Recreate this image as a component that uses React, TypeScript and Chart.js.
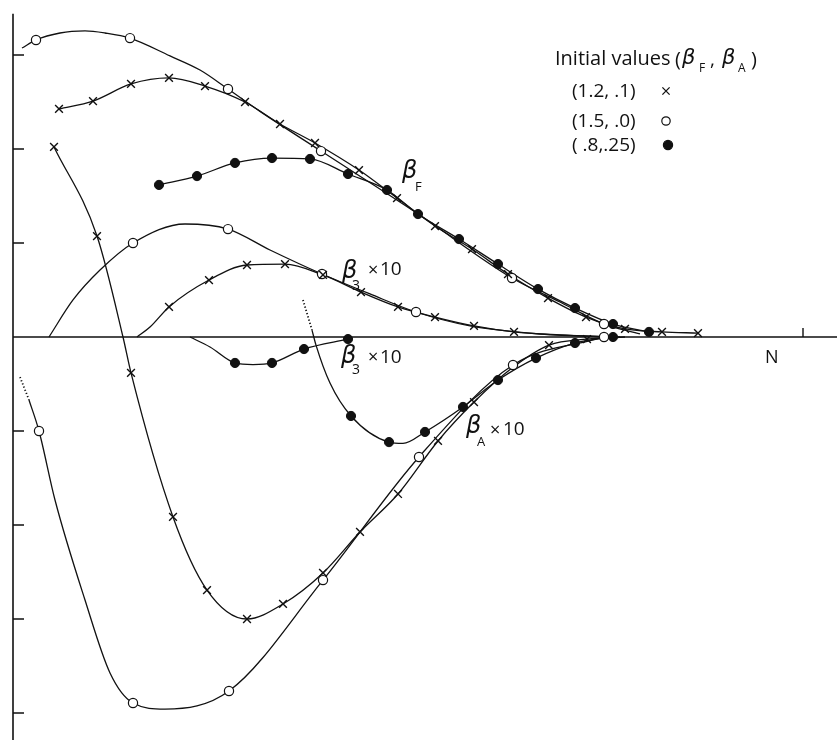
import React, { useEffect, useRef } from "react";
import { Chart, registerables } from "chart.js";

Chart.register(...registerables);

type P = [number, number];

// Horizontal axis is N; vertical axis is β, with a tick every 0.5.
const X_MIN = -1.3;
const X_MAX = 82.4;
const Y_MIN = -2.1436;
const Y_MAX = 1.7926;
const AXIS_TOP = 1.72;
const Y_TICKS = [-2, -1.5, -1, -0.5, 0.5, 1, 1.5];
const X_TICKS = [79];

// β_F, initial values (1.2, .1)  — crosses
const betaFCrossMarks: P[] = [
  [4.6, 1.213], [8.0, 1.255], [11.8, 1.346], [15.6, 1.378], [19.2, 1.335],
  [23.2, 1.25], [26.7, 1.133], [30.2, 1.032], [34.6, 0.888], [38.4, 0.739],
  [42.2, 0.59], [45.9, 0.468], [49.5, 0.335], [53.5, 0.207], [57.3, 0.106],
  [61.2, 0.043], [64.9, 0.027], [68.5, 0.021],
];

// β_F, initial values (1.5, .0)  — open circles
const betaFOpenMarks: P[] = [
  [2.3, 1.58], [11.7, 1.59], [21.5, 1.319], [30.8, 0.989], [49.9, 0.314], [59.1, 0.069],
];
const betaFOpenPath: P[] = [
  [0.9, 1.537], [4.7, 1.617], [7.2, 1.628], [9.2, 1.617], [15.7, 1.495],
  [18.7, 1.42], [24.7, 1.2], [40.3, 0.662], [54.7, 0.186], [62.7, 0.016],
];

// β_F, initial values (.8, .25)  — filled circles
const betaFFilledMarks: P[] = [
  [14.6, 0.809], [18.4, 0.856], [22.2, 0.926], [25.9, 0.952], [29.7, 0.947],
  [33.5, 0.867], [37.4, 0.782], [40.5, 0.654], [44.6, 0.521], [48.5, 0.388],
  [52.5, 0.255], [56.2, 0.154], [60.0, 0.069], [63.6, 0.027],
];

// β_3 × 10
const beta3OpenMarks: P[] = [[12.0, 0.5], [21.5, 0.574], [30.9, 0.335], [40.3, 0.133]];
const beta3OpenPath: P[] = [
  [3.6, 0], [6.0, 0.197], [8.7, 0.356], [17.2, 0.601], [25.7, 0.463],
  [35.7, 0.229], [45.7, 0.059], [52.7, 0.016], [60.7, 0],
];
const beta3CrossMarks: P[] = [
  [15.6, 0.16], [19.6, 0.303], [23.4, 0.383], [27.2, 0.388], [31.0, 0.33],
  [34.8, 0.239], [38.5, 0.16], [42.2, 0.106], [46.1, 0.059], [50.1, 0.027],
];
const beta3CrossPath: P[] = [[12.4, 0], [13.7, 0.053], [54.7, 0.011], [59.7, 0]];
const beta3FilledMarks: P[] = [[22.2, -0.138], [25.9, -0.138], [29.1, -0.064], [33.5, -0.011]];
const beta3FilledPath: P[] = [[17.7, 0], [19.7, -0.053], [24.0, -0.147]];

// β_A × 10
const betaACrossMarks: P[] = [
  [4.1, 1.011], [8.4, 0.537], [11.8, -0.191], [16.0, -0.957], [19.4, -1.346],
  [23.4, -1.5], [27.0, -1.42], [31.0, -1.255], [34.7, -1.037], [38.5, -0.835],
  [42.5, -0.553], [46.1, -0.346], [53.6, -0.043], [57.4, -0.011],
];
const betaACrossPath: P[] = [[11.0, 0], [49.9, -0.165], [61.2, 0]];
const betaAOpenMarks: P[] = [
  [2.6, -0.5], [12.0, -1.947], [21.6, -1.883], [31.0, -1.293], [40.6, -0.638], [50.0, -0.149], [59.1, 0],
];
const betaAOpenPath: P[] = [[1.6, -0.335], [4.2, -0.867], [7.2, -1.399], [9.7, -1.787], [15.2, -1.979]];
const betaAOpenDotted: P[] = [[0.7, -0.213], [1.6, -0.335]];
const betaAFilledMarks: P[] = [
  [33.8, -0.42], [37.6, -0.559], [41.2, -0.505], [45.0, -0.372], [48.5, -0.229],
  [52.3, -0.112], [56.2, -0.032], [60.0, 0],
];
const betaAFilledPath: P[] = [[29.9, 0.037], [30.3, -0.043], [31.7, -0.245], [39.0, -0.566]];
const betaAFilledDotted: P[] = [[29.0, 0.197], [29.9, 0.037]];

const INK = "#111";
const SANS = '"Open Sans", "DejaVu Sans", sans-serif';
const GREEK = '"DejaVu Sans", sans-serif';

const merge = (...lists: P[][]) =>
  lists
    .flat()
    .slice()
    .sort((a, b) => a[0] - b[0])
    .map(([x, y]) => ({ x, y }));

const curve = (...lists: P[][]) => ({
  data: merge(...lists),
  borderColor: INK,
  borderWidth: 1.3,
  pointRadius: 0,
  fill: false,
  cubicInterpolationMode: "monotone" as const,
  order: 3,
});

const dotted = (pts: P[]) => ({
  ...curve(pts),
  borderWidth: 1.8,
  borderDash: [1.2, 2.2],
  cubicInterpolationMode: "default" as const,
  tension: 0,
});

const crosses = (pts: P[]) => ({
  data: merge(pts),
  showLine: false,
  pointStyle: "crossRot" as const,
  pointRadius: 5.5,
  pointBorderWidth: 1.4,
  pointBorderColor: INK,
  pointBackgroundColor: INK,
  order: 1,
});

const openDots = (pts: P[]) => ({
  data: merge(pts),
  showLine: false,
  pointStyle: "circle" as const,
  pointRadius: 4.6,
  pointBorderWidth: 1.2,
  pointBorderColor: INK,
  pointBackgroundColor: "#fff",
  order: 1,
});

const filledDots = (pts: P[]) => ({
  data: merge(pts),
  showLine: false,
  pointStyle: "circle" as const,
  pointRadius: 4.6,
  pointBorderWidth: 1,
  pointBorderColor: INK,
  pointBackgroundColor: INK,
  order: 1,
});

function text(ctx: CanvasRenderingContext2D, s: string, x: number, y: number, font: string) {
  ctx.font = font;
  ctx.fillText(s, x, y);
}

function mark(ctx: CanvasRenderingContext2D, kind: "x" | "o" | "f", x: number, y: number) {
  ctx.beginPath();
  if (kind === "x") {
    const r = 3.6;
    ctx.lineWidth = 1.3;
    ctx.moveTo(x - r, y - r);
    ctx.lineTo(x + r, y + r);
    ctx.moveTo(x + r, y - r);
    ctx.lineTo(x - r, y + r);
    ctx.stroke();
  } else {
    ctx.arc(x, y, kind === "o" ? 4.2 : 4.6, 0, Math.PI * 2);
    ctx.fillStyle = kind === "o" ? "#fff" : INK;
    ctx.fill();
    ctx.lineWidth = 1.2;
    ctx.stroke();
    ctx.fillStyle = INK;
  }
}

const BETA_BIG = `italic 24px ${GREEK}`;
const BETA_SMALL = `italic 21px ${GREEK}`;
const TIMES = `18px ${SANS}`;
const SUB = `14px ${SANS}`;

const axesPlugin = {
  id: "betaAxes",
  beforeDatasetsDraw(chart: any) {
    const { ctx } = chart;
    const xs = chart.scales.x;
    const ys = chart.scales.y;
    const x0 = xs.getPixelForValue(0);
    const y0 = ys.getPixelForValue(0);
    ctx.save();
    ctx.strokeStyle = INK;
    ctx.lineWidth = 1.6;
    ctx.beginPath();
    ctx.moveTo(x0, ys.getPixelForValue(AXIS_TOP));
    ctx.lineTo(x0, chart.height);
    ctx.moveTo(x0, y0);
    ctx.lineTo(chart.width, y0);
    ctx.stroke();
    ctx.lineWidth = 1.4;
    ctx.beginPath();
    for (const v of Y_TICKS) {
      const py = ys.getPixelForValue(v);
      ctx.moveTo(x0, py);
      ctx.lineTo(x0 + 11, py);
    }
    for (const v of X_TICKS) {
      const px = xs.getPixelForValue(v);
      ctx.moveTo(px, y0);
      ctx.lineTo(px, y0 - 9);
    }
    ctx.stroke();
    ctx.restore();
  },
  afterDraw(chart: any) {
    const { ctx } = chart;
    ctx.save();
    ctx.fillStyle = INK;
    ctx.strokeStyle = INK;
    ctx.textBaseline = "alphabetic";

    // curve labels
    text(ctx, "β", 402, 178, BETA_BIG);
    text(ctx, "F", 415, 191, `13px ${SANS}`);

    text(ctx, "β", 342, 278, BETA_BIG);
    text(ctx, "3", 352, 290, SUB);
    text(ctx, "×", 368, 276, TIMES);
    text(ctx, "10", 380, 275, `19px ${SANS}`);

    text(ctx, "β", 341, 363, BETA_BIG);
    text(ctx, "3", 352, 374, SUB);
    text(ctx, "×", 368, 363, TIMES);
    text(ctx, "10", 380, 363, `19px ${SANS}`);

    text(ctx, "β", 466, 433, BETA_BIG);
    text(ctx, "A", 477, 446, `13px ${SANS}`);
    text(ctx, "×", 490, 436, TIMES);
    text(ctx, "10", 503, 435, `19px ${SANS}`);

    text(ctx, "N", 765, 363, `18px ${SANS}`);

    // legend
    text(ctx, "Initial values", 555, 65, `20px ${SANS}`);
    text(ctx, "(", 675, 66, `20px ${SANS}`);
    text(ctx, "β", 682, 64, BETA_SMALL);
    text(ctx, "F", 699, 72, `12px ${SANS}`);
    text(ctx, ",", 710, 66, `19px ${SANS}`);
    text(ctx, "β", 722, 64, BETA_SMALL);
    text(ctx, "A", 738, 72, `12px ${SANS}`);
    text(ctx, ")", 751, 66, `20px ${SANS}`);

    text(ctx, "(1.2, .1)", 572, 97, `19px ${SANS}`);
    text(ctx, "(1.5, .0)", 572, 127, `19px ${SANS}`);
    text(ctx, "( .8,.25)", 572, 151, `19px ${SANS}`);
    mark(ctx, "x", 666, 91);
    mark(ctx, "o", 666, 121);
    mark(ctx, "f", 668, 145);

    ctx.restore();
  },
};

export default function App() {
  const canvasRef = useRef<HTMLCanvasElement | null>(null);

  useEffect(() => {
    const canvas = canvasRef.current;
    if (!canvas) return;
    const chart = new Chart(canvas, {
      type: "line",
      data: {
        datasets: [
          curve(betaFCrossMarks),
          curve(betaFOpenMarks, betaFOpenPath),
          curve(betaFFilledMarks),
          curve(beta3OpenMarks, beta3OpenPath),
          curve(beta3CrossMarks, beta3CrossPath),
          curve(beta3FilledMarks, beta3FilledPath),
          curve(betaACrossMarks, betaACrossPath),
          curve(betaAOpenMarks, betaAOpenPath),
          curve(betaAFilledMarks, betaAFilledPath),
          dotted(betaAOpenDotted),
          dotted(betaAFilledDotted),
          crosses(betaFCrossMarks),
          crosses(beta3CrossMarks),
          crosses(betaACrossMarks),
          filledDots(betaFFilledMarks),
          filledDots(beta3FilledMarks),
          filledDots(betaAFilledMarks),
          openDots(betaFOpenMarks),
          openDots(beta3OpenMarks),
          openDots(betaAOpenMarks),
        ] as any,
      },
      options: {
        responsive: false,
        maintainAspectRatio: false,
        animation: false,
        events: [],
        layout: { padding: 0, autoPadding: false },
        plugins: { legend: { display: false }, tooltip: { enabled: false } },
        scales: {
          x: { type: "linear", min: X_MIN, max: X_MAX, display: false },
          y: { type: "linear", min: Y_MIN, max: Y_MAX, display: false },
        },
      },
      plugins: [axesPlugin],
    });
    return () => chart.destroy();
  }, []);

  return (
    <div style={{ position: "absolute", left: 0, top: 0, width: 837, height: 740, background: "#fff" }}>
      <canvas ref={canvasRef} width={837} height={740} style={{ display: "block" }} />
    </div>
  );
}
